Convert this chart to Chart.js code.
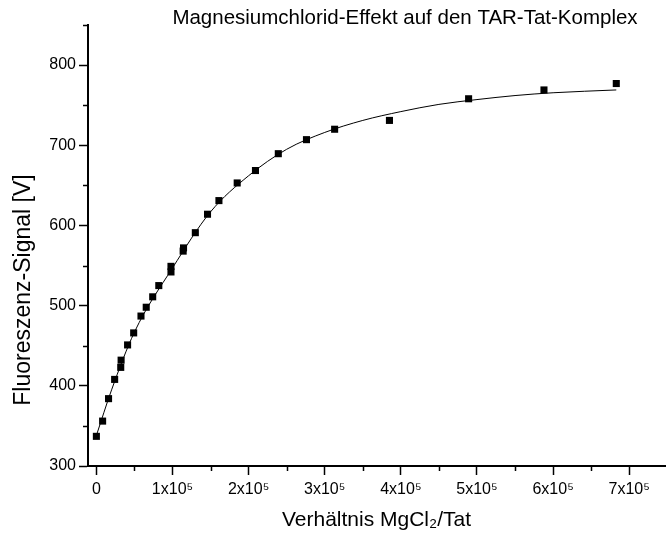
<!DOCTYPE html>
<html>
<head>
<meta charset="utf-8">
<script src="https://cdn.jsdelivr.net/npm/chart.js@4"></script>
<style>
  html, body { margin: 0; padding: 0; background: #fff; }
  #wrap { width: 670px; height: 538px; }
</style>
</head>
<body>
<div id="wrap"><canvas id="mgChart" width="670" height="538"></canvas></div>
<script>
// Messpunkte (Verhältnis MgCl2/Tat, Fluoreszenz-Signal)
const ratio = [0, 8200, 16000, 24000, 32000, 32500, 41000, 49000, 58600, 65500, 74000, 82000,
  98000, 98000, 114000, 114500, 130000, 146000, 161000, 185000, 209000, 239000, 276000,
  313000, 385000, 489000, 588000, 683000];
const signal = [337, 356, 384, 408, 423, 432, 451, 466, 487, 498, 511, 525,
  542, 549, 568, 572, 591, 614, 631, 653, 668.5, 689.5, 707,
  720, 731, 758, 769, 777];

// Fit-Kurve
const fitRatio = [0, 20000, 50000, 100000, 150000, 200000, 250000, 300000, 350000,
  400000, 450000, 500000, 550000, 600000, 683000];
const fitSignal = [338, 395, 467, 547, 617, 662, 695, 716, 731, 742, 751, 757, 762, 765.5, 769];

// Achsen
const xTicks = [0, 100000, 200000, 300000, 400000, 500000, 600000, 700000];
const xMinorTicks = [50000, 150000, 250000, 350000, 450000, 550000, 650000];
const yTicks = [300, 400, 500, 600, 700, 800];
const yMinorTicks = [350, 450, 550, 650, 750, 850];

const FONT = "'Liberation Sans', Arial, sans-serif";

const extras = {
  id: "extras",
  afterDraw(chart) {
    const { ctx, scales } = chart;
    const x = scales.x, y = scales.y;
    ctx.save();
    ctx.strokeStyle = "#000";
    ctx.lineWidth = 1.5;
    // kleine Striche
    ctx.beginPath();
    xMinorTicks.forEach(v => {
      const px = Math.round(x.getPixelForValue(v)) + 0.5;
      ctx.moveTo(px, y.bottom);
      ctx.lineTo(px, y.bottom + 5);
    });
    yMinorTicks.forEach(v => {
      const py = Math.round(y.getPixelForValue(v)) + 0.5;
      ctx.moveTo(x.left, py);
      ctx.lineTo(x.left - 5, py);
    });
    ctx.stroke();

    ctx.fillStyle = "#000";
    ctx.font = "20.5px " + FONT;
    ctx.textAlign = "center";
    ctx.textBaseline = "middle";
    ctx.fillText("Magnesiumchlorid-Effekt auf den TAR-Tat-Komplex", 405, 18);

    ctx.font = "23px " + FONT;
    ctx.translate(24, 290);
    ctx.rotate(-Math.PI / 2);
    ctx.fillText("Fluoreszenz-Signal [V]", 0, 0);
    ctx.restore();
  }
};

new Chart(document.getElementById("mgChart").getContext("2d"), {
  type: "scatter",
  data: {
    datasets: [
      {
        label: "Messwerte",
        data: ratio.map((r, i) => ({ x: r, y: signal[i] })),
        pointStyle: "rect",
        pointRadius: 5,
        pointHoverRadius: 5,
        backgroundColor: "#000",
        borderColor: "#000",
        borderWidth: 0,
        showLine: false
      },
      {
        label: "Fit",
        data: fitRatio.map((r, i) => ({ x: r, y: fitSignal[i] })),
        showLine: true,
        pointRadius: 0,
        borderColor: "#000",
        borderWidth: 1,
        cubicInterpolationMode: "monotone",
        fill: false
      }
    ]
  },
  options: {
    responsive: false,
    animation: false,
    layout: { padding: { top: 25, right: 0, bottom: 0, left: 0 } },
    plugins: {
      legend: { display: false },
      title: { display: false },
      tooltip: { enabled: false }
    },
    scales: {
      x: {
        type: "linear",
        min: -11000,
        max: 747000,
        afterBuildTicks: s => { s.ticks = xTicks.map(v => ({ value: v })); },
        afterFit: s => { s.height = 72; },
        border: { color: "#000", width: 2 },
        grid: { drawOnChartArea: false, drawTicks: true, tickLength: 9, tickColor: "#000", tickWidth: 1.5 },
        ticks: {
          color: "#000",
          font: { family: FONT, size: 16 },
          padding: 5,
          maxRotation: 0,
          callback: v => v === 0 ? "0" : (v / 100000) + "x10⁵"
        },
        title: {
          display: true,
          text: "Verhältnis MgCl₂/Tat",
          color: "#000",
          font: { family: FONT, size: 21 },
          padding: { top: 4, bottom: 5 }
        }
      },
      y: {
        type: "linear",
        min: 300,
        max: 850,
        afterBuildTicks: s => { s.ticks = yTicks.map(v => ({ value: v })); },
        afterFit: s => { s.width = 88; },
        border: { color: "#000", width: 2 },
        grid: { drawOnChartArea: false, drawTicks: true, tickLength: 9, tickColor: "#000", tickWidth: 1.5 },
        ticks: {
          color: "#000",
          font: { family: FONT, size: 16 },
          padding: 3
        }
      }
    }
  },
  plugins: [extras]
});
</script>
</body>
</html>
